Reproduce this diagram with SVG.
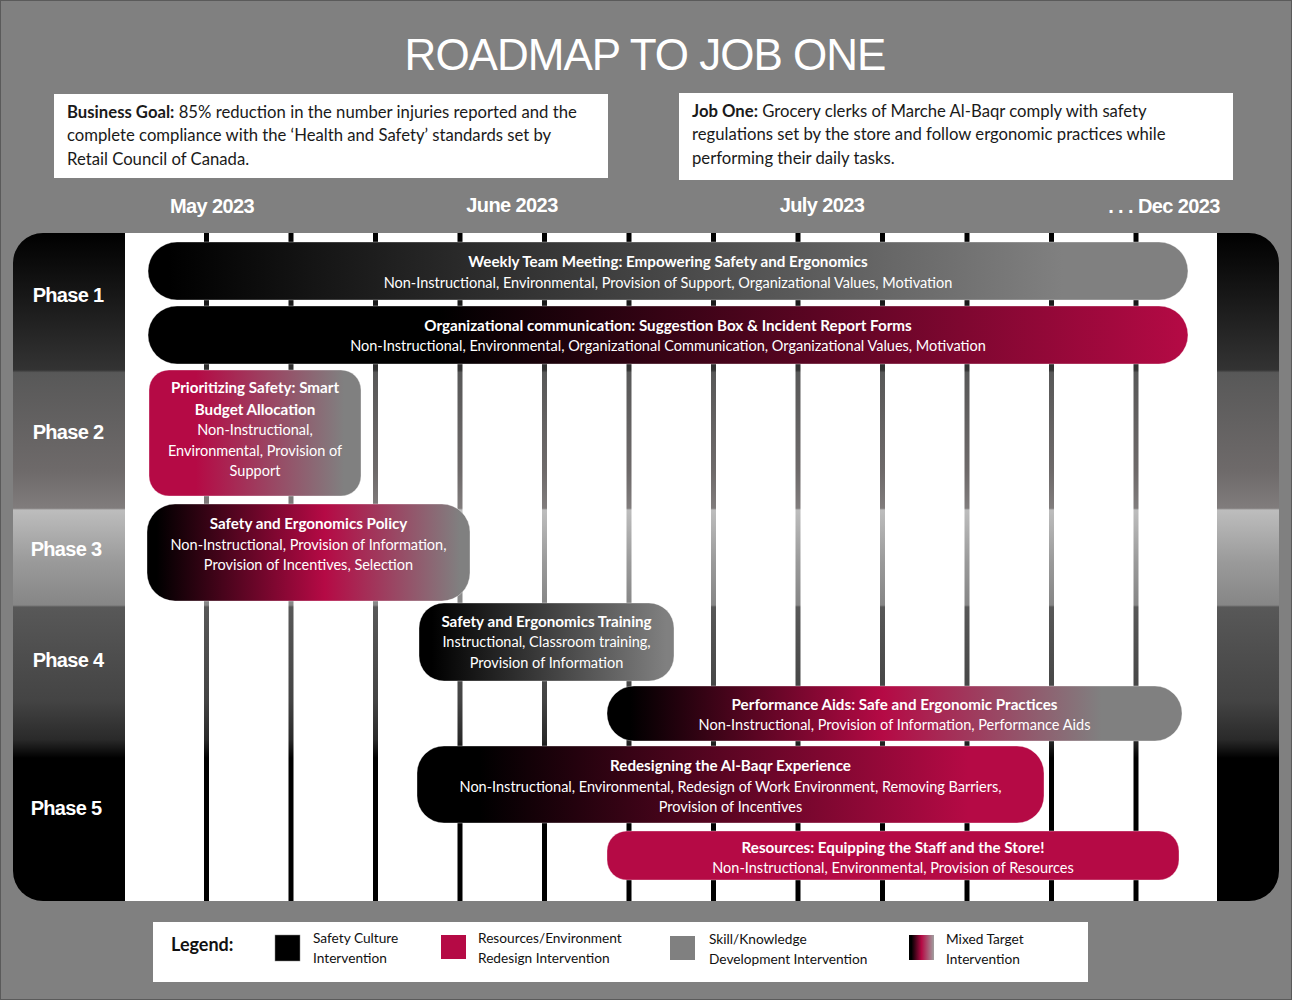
<svg xmlns="http://www.w3.org/2000/svg" width="1292" height="1000" viewBox="0 0 1292 1000">
<defs>
<style>
.title{font-family:"Liberation Sans",Arial,sans-serif;font-size:44px;fill:#fff;letter-spacing:-1px}
.month{font-family:"Liberation Sans",Arial,sans-serif;font-size:20px;font-weight:bold;fill:#fff;letter-spacing:-0.6px}
.phase{font-family:"Liberation Sans",Arial,sans-serif;font-size:20px;font-weight:bold;fill:#fff;letter-spacing:-0.7px}
.hdr{font-family:Lato,"Open Sans",sans-serif;font-size:16.7px;fill:#1a1a1a}
.bt{font-family:Lato,"Open Sans",sans-serif;font-size:15.2px;font-weight:bold;fill:#fff;text-anchor:middle}
.bs{font-family:Lato,"Open Sans",sans-serif;font-size:14.5px;fill:#fff;text-anchor:middle}
.lg{font-family:Lato,"Open Sans",sans-serif;font-size:13.7px;fill:#111}
.lgh{font-family:Lato,"Open Sans",sans-serif;font-size:18px;font-weight:bold;fill:#111}
.bar{stroke:#ffffff;stroke-opacity:0.35;stroke-width:1}
</style>
<linearGradient id="bands" gradientUnits="userSpaceOnUse" x1="0" y1="233" x2="0" y2="901">
<stop offset="0" stop-color="#000"/>
<stop offset="0.205" stop-color="#333"/>
<stop offset="0.209" stop-color="#585858"/>
<stop offset="0.356" stop-color="#6e6a6a"/>
<stop offset="0.412" stop-color="#807c7c"/>
<stop offset="0.4147" stop-color="#bdbdbd"/>
<stop offset="0.4925" stop-color="#9a9a9a"/>
<stop offset="0.557" stop-color="#868686"/>
<stop offset="0.5599" stop-color="#585858"/>
<stop offset="0.699" stop-color="#444"/>
<stop offset="0.758" stop-color="#2a2a2a"/>
<stop offset="0.786" stop-color="#000"/>
<stop offset="1" stop-color="#000"/>
</linearGradient>
<linearGradient id="g1" x1="0" y1="0" x2="1" y2="0"><stop offset="0.02" stop-color="#000"/><stop offset="0.88" stop-color="#808080"/></linearGradient>
<linearGradient id="g2" x1="0" y1="0" x2="1" y2="0"><stop offset="0.28" stop-color="#000"/><stop offset="1" stop-color="#b50a45"/></linearGradient>
<linearGradient id="g3" x1="0" y1="0" x2="1" y2="0"><stop offset="0.22" stop-color="#b50a45"/><stop offset="0.92" stop-color="#808080"/></linearGradient>
<linearGradient id="g4" x1="0" y1="0" x2="1" y2="0"><stop offset="0.03" stop-color="#000"/><stop offset="0.55" stop-color="#b50a45"/><stop offset="0.97" stop-color="#808080"/></linearGradient>
<linearGradient id="g5" x1="0" y1="0" x2="1" y2="0"><stop offset="0.05" stop-color="#000"/><stop offset="0.97" stop-color="#808080"/></linearGradient>
<linearGradient id="g6" x1="0" y1="0" x2="1" y2="0"><stop offset="0.04" stop-color="#000"/><stop offset="0.48" stop-color="#b50a45"/><stop offset="0.86" stop-color="#808080"/></linearGradient>
<linearGradient id="g7" x1="0" y1="0" x2="1" y2="0"><stop offset="0.1" stop-color="#000"/><stop offset="0.88" stop-color="#b50a45"/></linearGradient>
<linearGradient id="gmix" x1="0" y1="0" x2="1" y2="0"><stop offset="0.1" stop-color="#000"/><stop offset="0.5" stop-color="#b50a45"/><stop offset="1" stop-color="#a0a0a0"/></linearGradient>
</defs>

<rect x="0.5" y="0.5" width="1291" height="999" fill="#808080" stroke="#5a5a5a"/>

<g id="header">
<text class="title" x="645" y="70" text-anchor="middle">ROADMAP TO JOB ONE</text>
<rect x="54" y="94" width="554" height="84" fill="#fff"/>
<text class="hdr" x="67" y="118"><tspan font-weight="bold">Business Goal:</tspan> 85% reduction in the number injuries reported and the</text>
<text class="hdr" x="67" y="141">complete compliance with the ‘Health and Safety’ standards set by</text>
<text class="hdr" x="67" y="165">Retail Council of Canada.</text>
<rect x="679" y="93" width="554" height="87" fill="#fff"/>
<text class="hdr" x="692" y="117"><tspan font-weight="bold">Job One:</tspan> Grocery clerks of Marche Al-Baqr comply with safety</text>
<text class="hdr" x="692" y="140">regulations set by the store and follow ergonomic practices while</text>
<text class="hdr" x="692" y="164">performing their daily tasks.</text>
</g>

<g id="months">
<text class="month" x="212" y="213" text-anchor="middle">May 2023</text>
<text class="month" x="512" y="212" text-anchor="middle">June 2023</text>
<text class="month" x="822" y="212" text-anchor="middle">July 2023</text>
<text class="month" x="1164" y="213" text-anchor="middle">. . . Dec 2023</text>
</g>

<g id="grid">
<rect x="13" y="233" width="1266" height="668" rx="30" fill="url(#bands)"/>
<rect x="125" y="233" width="1092" height="668" fill="#fff"/>
<g fill="url(#bands)">
<rect x="204" y="233" width="5" height="668"/>
<rect x="288.5" y="233" width="5" height="668"/>
<rect x="373" y="233" width="5" height="668"/>
<rect x="457.5" y="233" width="5" height="668"/>
<rect x="542" y="233" width="5" height="668"/>
<rect x="626.5" y="233" width="5" height="668"/>
<rect x="711" y="233" width="5" height="668"/>
<rect x="795.5" y="233" width="5" height="668"/>
<rect x="880" y="233" width="5" height="668"/>
<rect x="964.5" y="233" width="5" height="668"/>
<rect x="1049" y="233" width="5" height="668"/>
<rect x="1133.5" y="233" width="5" height="668"/>
</g>
</g>

<g id="phases">
<text class="phase" x="68" y="302" text-anchor="middle">Phase 1</text>
<text class="phase" x="68" y="439" text-anchor="middle">Phase 2</text>
<text class="phase" x="66" y="556" text-anchor="middle">Phase 3</text>
<text class="phase" x="68" y="667" text-anchor="middle">Phase 4</text>
<text class="phase" x="66" y="815" text-anchor="middle">Phase 5</text>
</g>

<g id="bar1">
<rect class="bar" x="148" y="242" width="1040" height="58" rx="29" fill="url(#g1)"/>
<text class="bt" x="668" y="267">Weekly Team Meeting: Empowering Safety and Ergonomics</text>
<text class="bs" x="668" y="288">Non-Instructional, Environmental, Provision of Support, Organizational Values, Motivation</text>
</g>
<g id="bar2">
<rect class="bar" x="148" y="306" width="1040" height="58" rx="29" fill="url(#g2)"/>
<text class="bt" x="668" y="331">Organizational communication: Suggestion Box &amp; Incident Report Forms</text>
<text class="bs" x="668" y="351">Non-Instructional, Environmental, Organizational Communication, Organizational Values, Motivation</text>
</g>
<g id="bar3">
<rect class="bar" x="149" y="370" width="212" height="126" rx="20" fill="url(#g3)"/>
<text class="bt" x="255" y="393">Prioritizing Safety: Smart</text>
<text class="bt" x="255" y="415">Budget Allocation</text>
<text class="bs" x="255" y="435">Non-Instructional,</text>
<text class="bs" x="255" y="456">Environmental, Provision of</text>
<text class="bs" x="255" y="476">Support</text>
</g>
<g id="bar4">
<rect class="bar" x="147" y="504" width="323" height="97" rx="28" fill="url(#g4)"/>
<text class="bt" x="308.5" y="529">Safety and Ergonomics Policy</text>
<text class="bs" x="308.5" y="550">Non-Instructional, Provision of Information,</text>
<text class="bs" x="308.5" y="570">Provision of Incentives, Selection</text>
</g>
<g id="bar5">
<rect class="bar" x="419" y="603" width="255" height="78" rx="25" fill="url(#g5)"/>
<text class="bt" x="546.5" y="627">Safety and Ergonomics Training</text>
<text class="bs" x="546.5" y="647">Instructional, Classroom training,</text>
<text class="bs" x="546.5" y="668">Provision of Information</text>
</g>
<g id="bar6">
<rect class="bar" x="607" y="686" width="575" height="55" rx="27" fill="url(#g6)"/>
<text class="bt" x="894.5" y="710">Performance Aids: Safe and Ergonomic Practices</text>
<text class="bs" x="894.5" y="730">Non-Instructional, Provision of Information, Performance Aids</text>
</g>
<g id="bar7">
<rect class="bar" x="417" y="746" width="627" height="77" rx="27" fill="url(#g7)"/>
<text class="bt" x="730.5" y="771">Redesigning the Al-Baqr Experience</text>
<text class="bs" x="730.5" y="792">Non-Instructional, Environmental, Redesign of Work Environment, Removing Barriers,</text>
<text class="bs" x="730.5" y="812">Provision of Incentives</text>
</g>
<g id="bar8">
<rect class="bar" x="607" y="831" width="572" height="49" rx="20" fill="#b50a45"/>
<text class="bt" x="893" y="853">Resources: Equipping the Staff and the Store!</text>
<text class="bs" x="893" y="873">Non-Instructional, Environmental, Provision of Resources</text>
</g>

<g id="legend">
<rect x="153" y="922" width="935" height="60" fill="#fff"/>
<text class="lgh" x="171" y="951">Legend:</text>
<rect x="275" y="935" width="25" height="26" fill="#000" stroke="#888" stroke-width="0.5"/>
<text class="lg" x="313" y="943">Safety Culture</text>
<text class="lg" x="313" y="963">Intervention</text>
<rect x="441" y="935" width="25" height="24" fill="#b50a45"/>
<text class="lg" x="478" y="943">Resources/Environment</text>
<text class="lg" x="478" y="963">Redesign Intervention</text>
<rect x="670" y="936" width="25" height="24" fill="#808080"/>
<text class="lg" x="709" y="944">Skill/Knowledge</text>
<text class="lg" x="709" y="964">Development Intervention</text>
<rect x="909" y="935" width="25" height="25" fill="url(#gmix)"/>
<text class="lg" x="946" y="944">Mixed Target</text>
<text class="lg" x="946" y="964">Intervention</text>
</g>
</svg>
